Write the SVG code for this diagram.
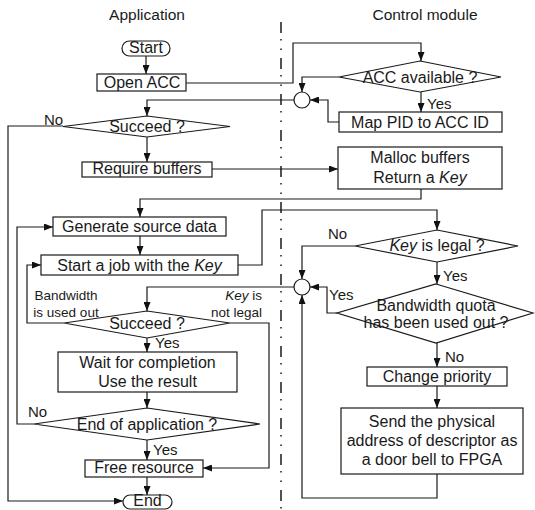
<svg xmlns="http://www.w3.org/2000/svg" width="535" height="510" viewBox="0 0 535 510">
<defs>
<marker id="ah" markerUnits="userSpaceOnUse" markerWidth="9" markerHeight="7" refX="9" refY="3.5" orient="auto">
<path d="M0,0 L9,3.5 L0,7 z" fill="#111"/>
</marker>
<style>
.n{fill:#fff;stroke:#1a1a1a;stroke-width:1.2}
.c{fill:none;stroke:#1a1a1a;stroke-width:1.2;marker-end:url(#ah)}
.p{fill:none;stroke:#1a1a1a;stroke-width:1.2}
text{font-family:"Liberation Sans",Arial,sans-serif;font-size:16px;fill:#1a1a1a}
.t{text-anchor:middle}
.l{font-size:15px}
.s{font-size:13.5px}
.h{font-size:15.5px;text-anchor:middle}
</style>
</defs>
<rect width="535" height="510" fill="#fff"/>
<text class="h" x="147" y="20">Application</text>
<text class="h" x="425" y="20">Control module</text>
<line x1="281" y1="22" x2="281" y2="510" stroke="#1a1a1a" stroke-width="1.5" stroke-dasharray="11 6 1.5 8 1.5 8"/>

<g id="connectors">
<path class="c" d="M146,56 V74"/>
<path class="c" d="M186,83 H293 V43 H421 V61"/>
<path class="c" d="M339,77 H302 V92"/>
<path class="c" d="M421,92 V112"/>
<path class="c" d="M339,122 H328 V100 H310"/>
<path class="c" d="M294,100 H147 V116"/>
<path class="c" d="M63,126 H8 V501 H123"/>
<path class="c" d="M147,137 V162"/>
<path class="c" d="M212,169 H338"/>
<path class="c" d="M421,189 V199 H140 V217"/>
<path class="c" d="M140,236 V255"/>
<path class="c" d="M238,265 H262 V210 H437 V230"/>
<path class="c" d="M355,246 H302 V279"/>
<path class="c" d="M437,262 V284"/>
<path class="c" d="M337,313 H327 V287 H310"/>
<path class="c" d="M437,343 V367"/>
<path class="c" d="M437,386 V408"/>
<path class="c" d="M437,474 V498 H302 V295"/>
<path class="c" d="M294,287 H147 V311"/>
<path class="c" d="M64,323 H27 V265 H41"/>
<path class="c" d="M230,323 H269 V468 H203"/>
<path class="c" d="M147,338 V352"/>
<path class="c" d="M147,392 V408"/>
<path class="c" d="M34,424 H17 V227 H53"/>
<path class="c" d="M147,440 V460"/>
<path class="c" d="M147,477 V495"/>
</g>

<g id="start"><rect class="n" x="122" y="41" width="48" height="15" rx="7.5"/><text class="t" x="146" y="53">Start</text></g>
<g id="open-acc"><rect class="n" x="97" y="74" width="89" height="17"/><text class="t" x="142" y="88">Open ACC</text></g>
<g id="acc-available"><polygon class="n" points="420,61 501,77 420,92 339,77"/><text class="t" x="420" y="83">ACC available ?</text></g>
<g id="map-pid"><rect class="n" x="339" y="112" width="163" height="20"/><text class="t" x="420" y="128">Map PID to ACC ID</text></g>
<g id="merge1"><circle class="n" cx="302" cy="100" r="8"/></g>
<g id="succeed1"><polygon class="n" points="147,116 230,126.5 147,137 63,126.5"/><text class="t" x="147" y="132">Succeed ?</text></g>
<g id="require-buffers"><rect class="n" x="82" y="162" width="130" height="15"/><text class="t" x="147" y="174">Require buffers</text></g>
<g id="malloc"><rect class="n" x="338" y="147" width="164" height="42"/><text class="t" x="420" y="163">Malloc buffers</text><text class="t" x="420" y="183">Return a <tspan font-style="italic">Key</tspan></text></g>
<g id="generate"><rect class="n" x="53" y="217" width="173" height="19"/><text class="t" x="139.5" y="232">Generate source data</text></g>
<g id="start-job"><rect class="n" x="41" y="255" width="197" height="20"/><text class="t" x="139.5" y="271">Start a job with the <tspan font-style="italic">Key</tspan></text></g>
<g id="key-legal"><polygon class="n" points="437,230 518,246 437,262 355,246"/><text class="t" x="437" y="251"><tspan font-style="italic">Key</tspan> is legal ?</text></g>
<g id="merge2"><circle class="n" cx="302" cy="287" r="8"/></g>
<g id="bandwidth-quota"><polygon class="n" points="436,284 533,313 436,343 337,313"/><text class="t" x="436" y="311">Bandwidth quota</text><text class="t" x="436" y="328">has been used out ?</text></g>
<g id="change-priority"><rect class="n" x="367" y="367" width="140" height="19"/><text class="t" x="437" y="382">Change priority</text></g>
<g id="send"><rect class="n" x="341" y="408" width="182" height="66"/><text class="t" x="432" y="427">Send the physical</text><text class="t" x="432" y="446">address of descriptor as</text><text class="t" x="432" y="465">a door bell to FPGA</text></g>
<g id="succeed2"><polygon class="n" points="147,311 230,323 147,338 64,323"/><text class="t" x="147" y="329">Succeed ?</text></g>
<g id="wait"><rect class="n" x="58" y="352" width="179" height="40"/><text class="t" x="147.5" y="368">Wait for completion</text><text class="t" x="147.5" y="387">Use the result</text></g>
<g id="end-of-app"><polygon class="n" points="147,408 260,424 147,440 34,424"/><text class="t" x="147" y="430">End of application ?</text></g>
<g id="free-resource"><rect class="n" x="85" y="460" width="118" height="17"/><text class="t" x="144" y="473">Free resource</text></g>
<g id="end"><rect class="n" x="123" y="495" width="49" height="14" rx="7"/><text class="t" x="147.5" y="506">End</text></g>

<g id="labels">
<text class="l" x="44" y="125">No</text>
<text class="l" x="427" y="109">Yes</text>
<text class="l" x="328" y="239">No</text>
<text class="l" x="443" y="281">Yes</text>
<text class="l" x="329" y="300">Yes</text>
<text class="l" x="445" y="362">No</text>
<text class="l" x="155" y="348">Yes</text>
<text class="l" x="28" y="417">No</text>
<text class="l" x="153" y="455">Yes</text>
<text class="s t" x="66" y="300">Bandwidth</text>
<text class="s t" x="66" y="317">is used out</text>
<text class="s" x="262" y="300" text-anchor="end"><tspan font-style="italic">Key</tspan> is</text>
<text class="s" x="262" y="317" text-anchor="end">not legal</text>
</g>
</svg>
